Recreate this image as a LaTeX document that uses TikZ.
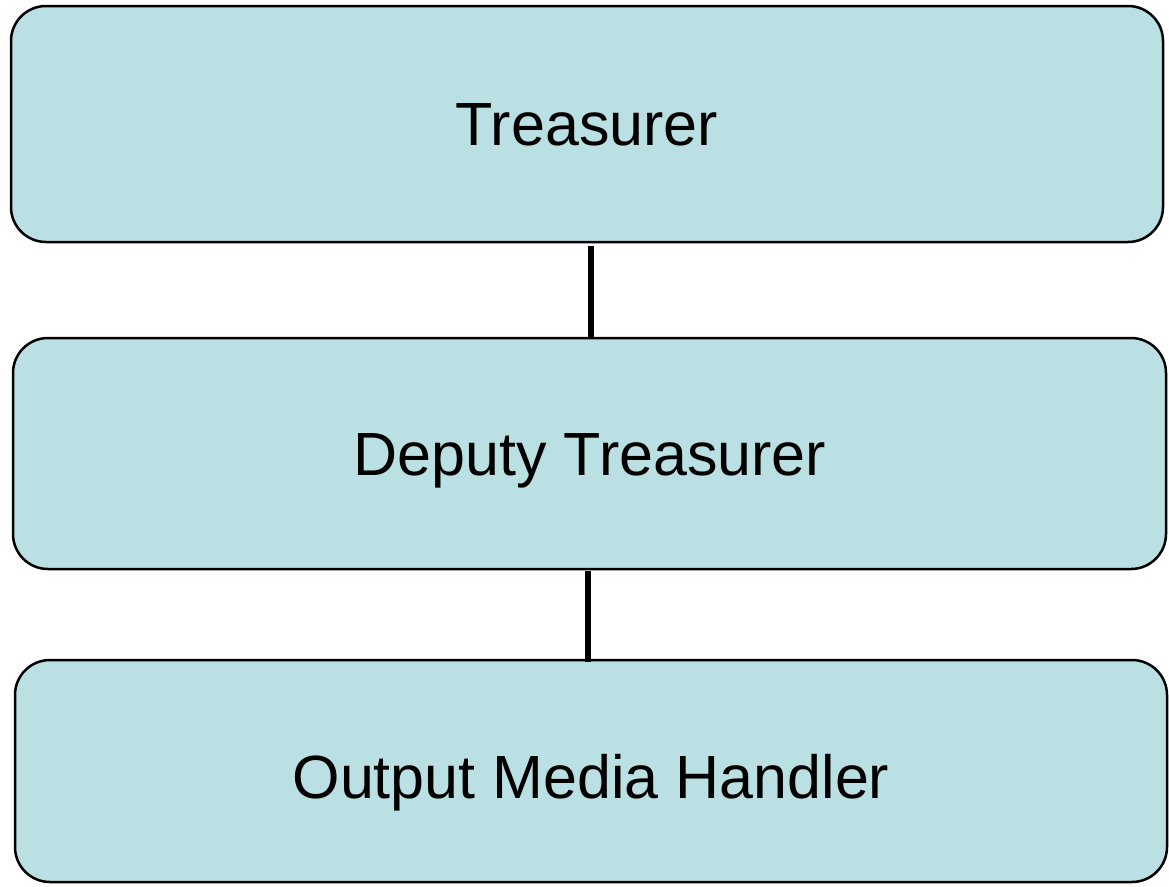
\documentclass[tikz,border=0pt]{standalone}
\usepackage{fontspec}
\setmainfont{Liberation Sans}
\definecolor{boxfill}{HTML}{BBE0E3}
\begin{document}
\begin{tikzpicture}[x=1pt,y=-1pt,
  rolebox/.style={draw=black,line width=2.5pt,fill=boxfill,rounded corners=35pt,
    inner sep=0pt,outer sep=0pt},
  rolelabel/.style={font=\fontsize{61}{70}\selectfont,inner sep=0pt},
  link/.style={line width=6pt}]
  \useasboundingbox (0,0) rectangle (1169,886);
  % three stacked role boxes
  \node[rolebox,minimum width=1152pt,minimum height=236pt] (tb) at (587,124) {};
  \node[rolebox,minimum width=1153pt,minimum height=231pt] (db) at (589.5,453.5) {};
  \node[rolebox,minimum width=1152pt,minimum height=222pt] (ob) at (591,771) {};
  \node[rolelabel] (t) at (587,125) {Treasurer};
  \node[rolelabel] (d) at (590,461) {Deputy Treasurer};
  \node[rolelabel] (o) at (591,783) {Output Media Handler};
  % reporting lines
  \draw[link] ([xshift=4pt,yshift=-4pt]tb.south) -- ([xshift=1.5pt,yshift=1pt]db.north);
  \draw[link] ([xshift=-1.5pt,yshift=-2pt]db.south) -- ([xshift=-3pt,yshift=-2pt]ob.north);
\end{tikzpicture}
\end{document}
